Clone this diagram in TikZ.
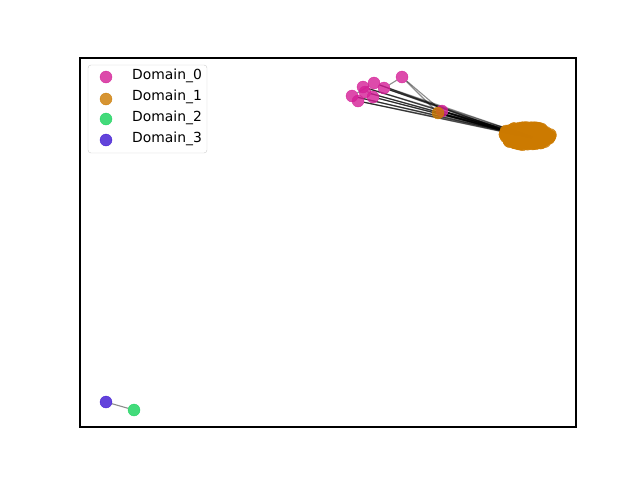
\documentclass[tikz,border=0pt]{standalone}
\usepackage{fontspec}
\setmainfont{DejaVu Sans}
\usetikzlibrary{backgrounds}

\definecolor{domzero}{RGB}{212,30,150}
\definecolor{domone}{RGB}{204,122,0}
\definecolor{domtwo}{RGB}{20,210,90}
\definecolor{domthree}{RGB}{60,20,210}

\tikzset{
  pt/.style={circle,inner sep=0pt,minimum size=12pt,fill opacity=0.8,fill=#1,draw=#1,draw opacity=0.8,line width=0.4pt},
  edge/.style={black,draw opacity=0.45,line width=1.1pt},
  legtext/.style={anchor=west,inner sep=0pt,font=\fontsize{13.9}{16}\selectfont}
}

\begin{document}
\begin{tikzpicture}[x=1pt,y=-1pt]
\useasboundingbox (0,0) rectangle (640,480);
\draw[line width=1.1pt] (80,58) rectangle (576,427);

% Domain_0
\node[pt=domzero] (m1) at (402,77) {};
\node[pt=domzero] (m2) at (363,87) {};
\node[pt=domzero] (m3) at (374,83) {};
\node[pt=domzero] (m4) at (384,88) {};
\node[pt=domzero] (m5) at (352,96) {};
\node[pt=domzero] (m6) at (358,101) {};
\node[pt=domzero] (m7) at (373,97) {};
\node[pt=domzero] (m8) at (365,92) {};
\node[pt=domzero] (m9) at (442,111) {};

% Domain_1
\node[pt=domone] (o0) at (438,113) {};
\pgfmathsetseed{11}
\foreach \i in {1,...,160}{
  \pgfmathsetmacro\ang{360*rnd}
  \pgfmathsetmacro\rad{sqrt(sqrt(rnd))}
  \node[pt=domone] (c\i) at ({527+24*\rad*cos(\ang)},{136+9*\rad*sin(\ang)}) {};
}
\node[pt=domone] (t1) at (506,131) {};
\node[pt=domone] (t2) at (514,134) {};
\node[pt=domone] (t3) at (522,136) {};
\node[pt=domone] (t4) at (530,137) {};
\node[pt=domone] (t5) at (538,139) {};
\node[pt=domone] (t6) at (518,131) {};

% Domain_2 and Domain_3
\node[pt=domthree] (b0) at (106,402) {};
\node[pt=domtwo] (g0) at (134,410) {};

\begin{scope}[on background layer]
\foreach \m in {m2,m3,m4,m5,m6,m7,m8}
  \foreach \t in {t1,t3,t5}
    \draw[edge] (\m) -- (\t);
\foreach \m in {m9,o0}
  \foreach \t in {t1,t2,t3,t4,t5,t6}
    \draw[edge] (\m) -- (\t);
\draw[edge] (m1) -- (m4);
\draw[edge] (m1) -- (m9);
\draw[edge] (m1) -- (o0);
\draw[edge] (m2) -- (m7);
\draw[edge] (m3) -- (m5);
\draw[edge] (b0) -- (g0);
\end{scope}

% legend
\draw[rounded corners=3pt,draw=black!20,fill=white,fill opacity=0.8] (88,65) rectangle (207,153);
\node[pt=domzero] (k0) at (106,77) {};
\node[pt=domone] (k1) at (106,99) {};
\node[pt=domtwo] (k2) at (106,119) {};
\node[pt=domthree] (k3) at (106,140) {};
\node[legtext] (l0) at (132,76) {Domain\_0};
\node[legtext] (l1) at (132,97) {Domain\_1};
\node[legtext] (l2) at (132,118) {Domain\_2};
\node[legtext] (l3) at (132,139) {Domain\_3};
\end{tikzpicture}
\end{document}
